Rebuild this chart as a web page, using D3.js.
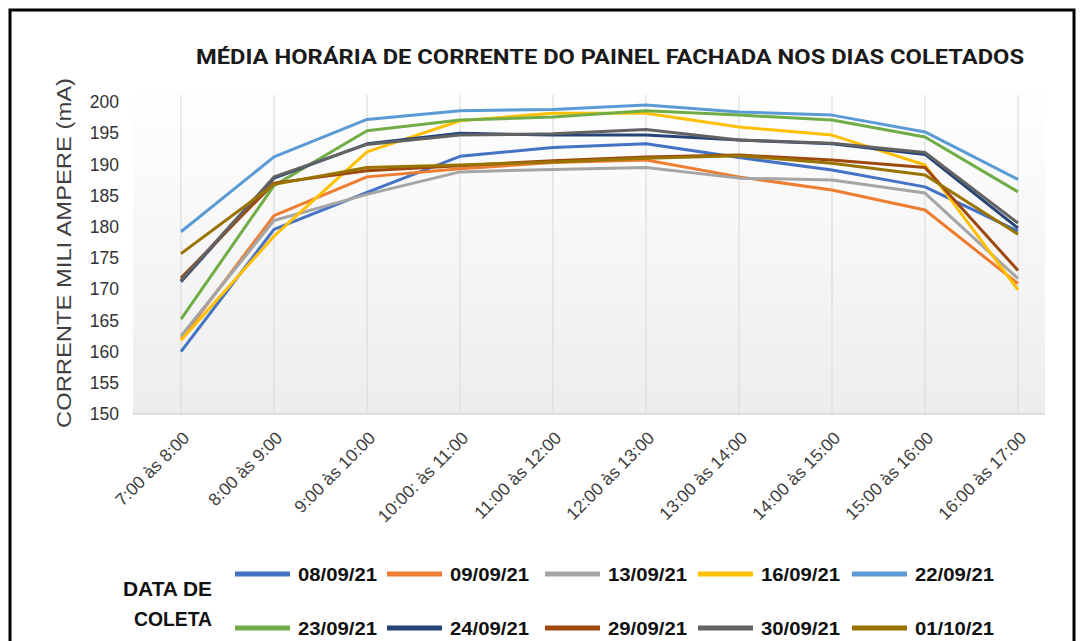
<!DOCTYPE html>
<html>
<head>
<meta charset="utf-8">
<script src="https://cdn.jsdelivr.net/npm/d3@7"></script>
<style>
  body { margin: 0; background: #fff; }
  svg { display: block; font-family: "Liberation Sans", Arial, sans-serif; }
</style>
</head>
<body>
<svg id="chart" width="1080" height="641"></svg>
<script>
// categories (x axis)
const categories = ['7:00 às 8:00', '8:00 às 9:00', '9:00 às 10:00', '10:00: às 11:00', '11:00 às 12:00',
    '12:00 às 13:00', '13:00 às 14:00', '14:00 às 15:00', '15:00 às 16:00', '16:00 às 17:00'];

// y tick labels
const yTicks = [150, 155, 160, 165, 170, 175, 180, 185, 190, 195, 200];

// legend dates, in legend order
const dates = ['08/09/21', '09/09/21', '13/09/21', '16/09/21', '22/09/21',
    '23/09/21', '24/09/21', '29/09/21', '30/09/21', '01/10/21'];

// hourly mean current (mA), one array per day
const d0809 = [160.0, 179.6, 185.5, 191.3, 192.7, 193.3, 191.1, 189.1, 186.4, 179.3];
const d0909 = [162.0, 181.8, 188.0, 189.3, 190.3, 190.7, 188.0, 185.9, 182.7, 170.9];
const d1309 = [162.5, 181.0, 185.2, 188.8, 189.2, 189.5, 187.8, 187.5, 185.4, 171.7];
const d1609 = [161.8, 178.5, 192.0, 197.0, 198.2, 198.2, 196.0, 194.7, 189.9, 169.9];
const d2209 = [179.2, 191.2, 197.2, 198.6, 198.8, 199.5, 198.4, 197.9, 195.2, 187.6];
const d2309 = [165.2, 186.6, 195.4, 197.1, 197.6, 198.6, 197.9, 197.1, 194.4, 185.6];
const d2409 = [171.2, 187.8, 193.3, 195.0, 194.7, 194.7, 193.9, 193.3, 191.6, 179.8];
const d2909 = [171.8, 187.0, 189.0, 189.8, 190.6, 191.2, 191.5, 190.7, 189.5, 173.0];
const d3009 = [171.4, 188.0, 193.2, 194.7, 194.9, 195.6, 193.9, 193.4, 191.9, 180.6];
const d0110 = [175.7, 186.8, 189.5, 189.9, 190.4, 191.0, 191.4, 190.2, 188.3, 178.8];

const colors = ['#4472C4', '#ED7D31', '#A5A5A5', '#FFC000', '#5B9BD5',
    '#70AD47', '#264478', '#9E480E', '#636363', '#997300'];

const seriesValues = [d0809, d0909, d1309, d1609, d2209, d2309, d2409, d2909, d3009, d0110];
const series = dates.map((d, i) => ({ date: d, values: seriesValues[i], color: colors[i] }));

const svg = d3.select('#chart');

// outer frame
svg.append('rect')
    .attr('x', 10).attr('y', 10)
    .attr('width', 1064).attr('height', 650)
    .attr('fill', 'none')
    .attr('stroke', '#000')
    .attr('stroke-width', 3);

// plot area with soft vertical gradient
const defs = svg.append('defs');
const grad = defs.append('linearGradient')
    .attr('id', 'plotbg').attr('x1', 0).attr('y1', 0).attr('x2', 0).attr('y2', 1);
grad.append('stop').attr('offset', '0%').attr('stop-color', '#ffffff');
grad.append('stop').attr('offset', '100%').attr('stop-color', '#ededed');

const plot = { left: 133, right: 1045, top: 85, bottom: 414 };

svg.append('rect')
    .attr('x', plot.left).attr('y', plot.top)
    .attr('width', plot.right - plot.left).attr('height', plot.bottom - plot.top)
    .attr('fill', 'url(#plotbg)');

const x = d3.scalePoint().domain(categories).range([181, 1018]);
const y = d3.scaleLinear().domain([150, 200]).range([414, 102]);

// vertical gridlines
svg.append('g')
    .selectAll('line')
    .data(categories)
    .join('line')
    .attr('x1', d => x(d)).attr('x2', d => x(d))
    .attr('y1', plot.top + 10).attr('y2', plot.bottom)
    .attr('stroke', '#dcdcdc')
    .attr('stroke-width', 1.2);

// baseline
svg.append('line')
    .attr('x1', plot.left).attr('x2', plot.right)
    .attr('y1', y(150)).attr('y2', y(150))
    .attr('stroke', '#d4d4d4')
    .attr('stroke-width', 1.5);

// y axis
const yAxis = svg.append('g')
    .attr('transform', 'translate(119,0)')
    .call(d3.axisLeft(y).tickValues(yTicks).tickSize(0).tickPadding(0));
yAxis.select('.domain').remove();
yAxis.selectAll('text')
    .attr('font-size', 17.5)
    .attr('fill', '#333')
    .attr('font-family', '"Liberation Sans", Arial, sans-serif');

// x axis labels rotated
const xAxis = svg.append('g')
    .attr('transform', `translate(0,${y(150)})`)
    .call(d3.axisBottom(x).tickSize(0).tickPadding(0));
xAxis.select('.domain').remove();
xAxis.selectAll('text')
    .attr('font-size', 17.5)
    .attr('fill', '#404040')
    .attr('font-family', '"Liberation Sans", Arial, sans-serif')
    .attr('text-anchor', 'end')
    .attr('dy', null)
    .attr('y', 0)
    .attr('transform', 'translate(9,25) rotate(-45)');

// y axis title
svg.append('text')
    .attr('transform', 'translate(71,253) rotate(-90)')
    .attr('text-anchor', 'middle')
    .attr('font-size', 20)
    .attr('fill', '#404040')
    .attr('textLength', 350)
    .attr('lengthAdjust', 'spacingAndGlyphs')
    .text('CORRENTE MILI AMPERE  (mA)');

// title
svg.append('text')
    .attr('x', 196).attr('y', 64)
    .attr('font-family', 'Roboto, "Liberation Sans", sans-serif')
    .attr('font-size', 19.5)
    .attr('font-weight', 'bold')
    .attr('fill', '#1a1a1a')
    .attr('textLength', 828)
    .attr('lengthAdjust', 'spacingAndGlyphs')
    .text('MÉDIA HORÁRIA DE CORRENTE DO PAINEL FACHADA NOS DIAS COLETADOS');

// lines
const line = d3.line()
    .x((d, i) => x(categories[i]))
    .y(d => y(d));

svg.append('g')
    .selectAll('path')
    .data(series)
    .join('path')
    .attr('d', d => line(d.values))
    .attr('fill', 'none')
    .attr('stroke', d => d.color)
    .attr('stroke-width', 3)
    .attr('stroke-linejoin', 'round');

// legend
svg.append('text')
    .attr('x', 123).attr('y', 596)
    .attr('font-size', 21).attr('font-weight', 'bold')
    .attr('fill', '#111')
    .attr('textLength', 89)
    .attr('lengthAdjust', 'spacingAndGlyphs')
    .text('DATA DE');
svg.append('text')
    .attr('x', 134).attr('y', 626)
    .attr('font-size', 21).attr('font-weight', 'bold')
    .attr('fill', '#111')
    .attr('textLength', 78)
    .attr('lengthAdjust', 'spacingAndGlyphs')
    .text('COLETA');

const legendX = [235, 387, 545, 698, 852];
const legendY = [574, 628];

const item = svg.append('g')
    .selectAll('g')
    .data(series)
    .join('g')
    .attr('transform', (d, i) => `translate(${legendX[i % 5]},${legendY[Math.floor(i / 5)]})`);

item.append('line')
    .attr('x1', 0).attr('x2', 55)
    .attr('y1', 0).attr('y2', 0)
    .attr('stroke', d => d.color)
    .attr('stroke-width', 5);

item.append('text')
    .attr('x', 63).attr('y', 7)
    .attr('font-size', 18.5).attr('font-weight', 'bold')
    .attr('fill', '#111')
    .attr('textLength', 79)
    .attr('lengthAdjust', 'spacingAndGlyphs')
    .text(d => d.date);
</script>
</body>
</html>
